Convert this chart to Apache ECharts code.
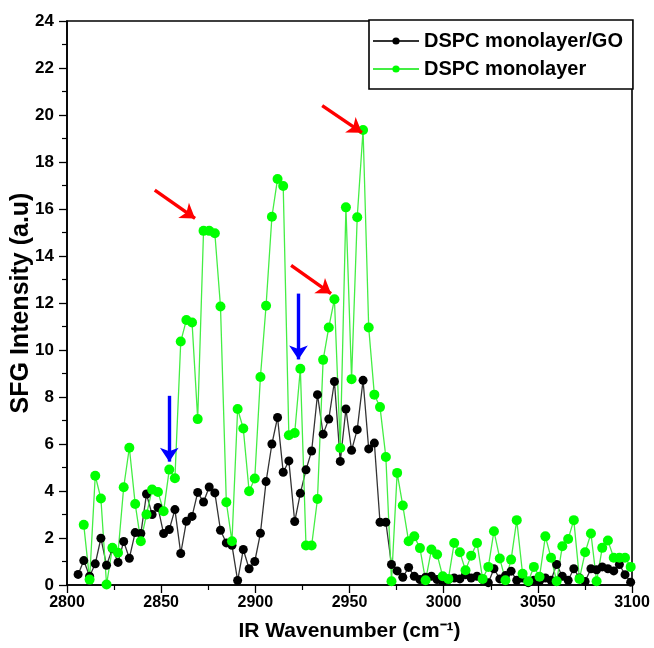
<!DOCTYPE html>
<html>
<head>
<meta charset="utf-8">
<script src="https://cdn.jsdelivr.net/npm/echarts@6/dist/echarts.min.js"></script>
<style>
html,body{margin:0;padding:0;background:#fff;}
#chart{width:654px;height:648px;}
</style>
</head>
<body>
<div id="chart"></div>
<script>
// IR wavenumbers (cm^-1) shared by both series
const wavenumbers = [
2805.9,2808.9,2812.0,2815.0,2818.0,2821.0,2824.1,2827.1,2830.1,2833.1,
2836.2,2839.2,2842.2,2845.2,2848.3,2851.3,2854.3,2857.3,2860.4,2863.4,
2866.4,2869.4,2872.5,2875.5,2878.5,2881.5,2884.6,2887.6,2890.6,2893.6,
2896.7,2899.7,2902.7,2905.7,2908.8,2911.8,2914.8,2917.8,2920.9,2923.9,
2926.9,2929.9,2933.0,2936.0,2939.0,2942.0,2945.1,2948.1,2951.1,2954.1,
2957.2,2960.2,2963.2,2966.2,2969.3,2972.3,2975.3,2978.3,2981.4,2984.4,
2987.4,2990.4,2993.5,2996.5,2999.5,3002.5,3005.6,3008.6,3011.6,3014.6,
3017.7,3020.7,3023.7,3026.7,3029.8,3032.8,3035.8,3038.8,3041.9,3044.9,
3047.9,3050.9,3054.0,3057.0,3060.0,3063.0,3066.1,3069.1,3072.1,3075.1,
3078.2,3081.2,3084.2,3087.2,3090.3,3093.3,3096.3,3099.3
];

// DSPC monolayer/GO (black)
const dspcGO = [
0.45,1.04,0.37,0.90,1.99,0.84,1.54,0.96,1.85,1.14,
2.23,2.19,3.87,3.00,3.30,2.19,2.36,3.21,1.34,2.71,
2.92,3.94,3.53,4.17,3.92,2.33,1.79,1.69,0.19,1.51,
0.69,1.00,2.20,4.40,6.00,7.13,4.80,5.28,2.70,3.90,
4.90,5.70,8.10,6.42,7.06,8.66,5.26,7.49,5.73,6.61,
8.71,5.79,6.04,2.67,2.67,0.87,0.60,0.33,0.75,0.37,
0.23,0.33,0.37,0.23,0.15,0.23,0.30,0.26,0.44,0.30,
0.37,0.23,0.10,0.69,0.26,0.40,0.59,0.20,0.30,0.10,
0.20,0.17,0.30,0.20,0.87,0.37,0.20,0.69,0.30,0.15,
0.69,0.65,0.77,0.69,0.60,0.87,0.44,0.12
];

// DSPC monolayer (green); first wavenumber has no point
const dspc = [
null,2.56,0.23,4.65,3.68,0.02,1.58,1.37,4.16,5.84,
3.45,1.86,3.00,4.06,3.96,3.14,4.91,4.54,10.36,11.28,
11.17,7.06,15.07,15.07,14.97,11.85,3.52,1.86,7.49,6.66,
3.99,4.53,8.85,11.88,15.67,17.28,16.98,6.37,6.47,9.20,
1.68,1.68,3.66,9.58,10.96,12.16,5.83,16.07,8.76,15.65,
19.36,10.96,8.10,7.57,5.45,0.16,4.77,3.38,1.86,2.07,
1.57,0.20,1.51,1.30,0.37,0.26,1.79,1.39,0.63,1.25,
1.79,0.26,0.77,2.29,1.13,0.20,1.08,2.76,0.48,0.16,
0.77,0.35,2.07,1.16,0.16,1.65,1.96,2.76,0.26,1.39,
2.19,0.16,1.58,1.89,1.16,1.16,1.16,0.77
];

// Annotation arrows in data coordinates: [fromX, fromY, toX, toY]
const redArrows = [
  [2846.6, 16.8, 2868.0, 15.6],
  [2919.0, 13.6, 2940.2, 12.4],
  [2935.5, 20.4, 2956.6, 19.25]
];
const blueArrows = [
  [2854.3, 8.05, 2854.3, 5.25],
  [2922.9, 12.4, 2922.9, 9.6]
];

const seriesNames = ['DSPC monolayer/GO', 'DSPC monolayer'];

function pairs(ys) {
  return wavenumbers.map((x, i) => [x, ys[i]]).filter(p => p[1] !== null);
}
function arrowData(list, color) {
  return list.map(a => [
    {coord: [a[0], a[1]], lineStyle: {color: color, width: 3.4, type: 'solid'}},
    {coord: [a[2], a[3]]}
  ]);
}

const FONT = 'Liberation Sans, Arial, sans-serif';
const chart = echarts.init(document.getElementById('chart'), null, {renderer: 'canvas'});
chart.setOption({
  animation: false,
  backgroundColor: '#fff',
  grid: {left: 67, right: 22, top: 21, bottom: 63, containLabel: false, outerBoundsMode: 'none',
    show: true, borderColor: '#000', borderWidth: 1.6, backgroundColor: 'transparent'},
  legend: {
    data: seriesNames,
    orient: 'vertical',
    left: 369, top: 20,
    backgroundColor: '#fff',
    borderColor: '#000', borderWidth: 1.6,
    padding: [11, 10, 10, 3],
    itemWidth: 46, itemHeight: 9, itemGap: 8,
    textStyle: {fontFamily: FONT, fontWeight: 'bold', fontSize: 20, color: '#000'}
  },
  xAxis: {
    type: 'value', min: 2800, max: 3100, interval: 50,
    name: 'IR Wavenumber (cm⁻¹)', nameLocation: 'middle', nameGap: 36, nameMoveOverlap: false,
    nameTextStyle: {fontFamily: FONT, fontWeight: 'bold', fontSize: 21, color: '#000'},
    axisLine: {show: true, lineStyle: {color: '#000', width: 1.6}},
    axisTick: {show: true, length: 8, lineStyle: {color: '#000', width: 1.3}},
    minorTick: {show: true, splitNumber: 2, length: 5, lineStyle: {color: '#000', width: 1.2}},
    axisLabel: {fontFamily: FONT, fontWeight: 'bold', fontSize: 16, color: '#000', margin: 10,
      formatter: v => String(v)},
    splitLine: {show: false}
  },
  yAxis: {
    type: 'value', min: 0, max: 24, interval: 2,
    name: 'SFG Intensity (a.u)', nameLocation: 'middle', nameGap: 33, nameMoveOverlap: false,
    nameTextStyle: {fontFamily: FONT, fontWeight: 'bold', fontSize: 25, color: '#000'},
    axisLine: {show: true, lineStyle: {color: '#000', width: 1.6}},
    axisTick: {show: true, length: 8, lineStyle: {color: '#000', width: 1.3}},
    minorTick: {show: true, splitNumber: 2, length: 5, lineStyle: {color: '#000', width: 1.2}},
    axisLabel: {fontFamily: FONT, fontWeight: 'bold', fontSize: 17, color: '#000', margin: 13,
      formatter: v => String(v)},
    splitLine: {show: false}
  },
  series: [
    {
      name: seriesNames[0], type: 'line', data: pairs(dspcGO),
      symbol: 'circle', symbolSize: 9,
      itemStyle: {color: '#000'},
      lineStyle: {color: '#333', width: 1.3},
      emphasis: {disabled: true}
    },
    {
      name: seriesNames[1], type: 'line', data: pairs(dspc),
      symbol: 'circle', symbolSize: 10,
      itemStyle: {color: '#00ff00'},
      lineStyle: {color: '#44ee44', width: 1.3},
      emphasis: {disabled: true},
      markLine: {
        silent: true, animation: false,
        symbol: ['none', 'arrow'], symbolSize: 14,
        label: {show: false},
        emphasis: {disabled: true},
        data: arrowData(redArrows, '#ff0000').concat(arrowData(blueArrows, '#0000ff'))
      }
    }
  ]
});
</script>
</body>
</html>
